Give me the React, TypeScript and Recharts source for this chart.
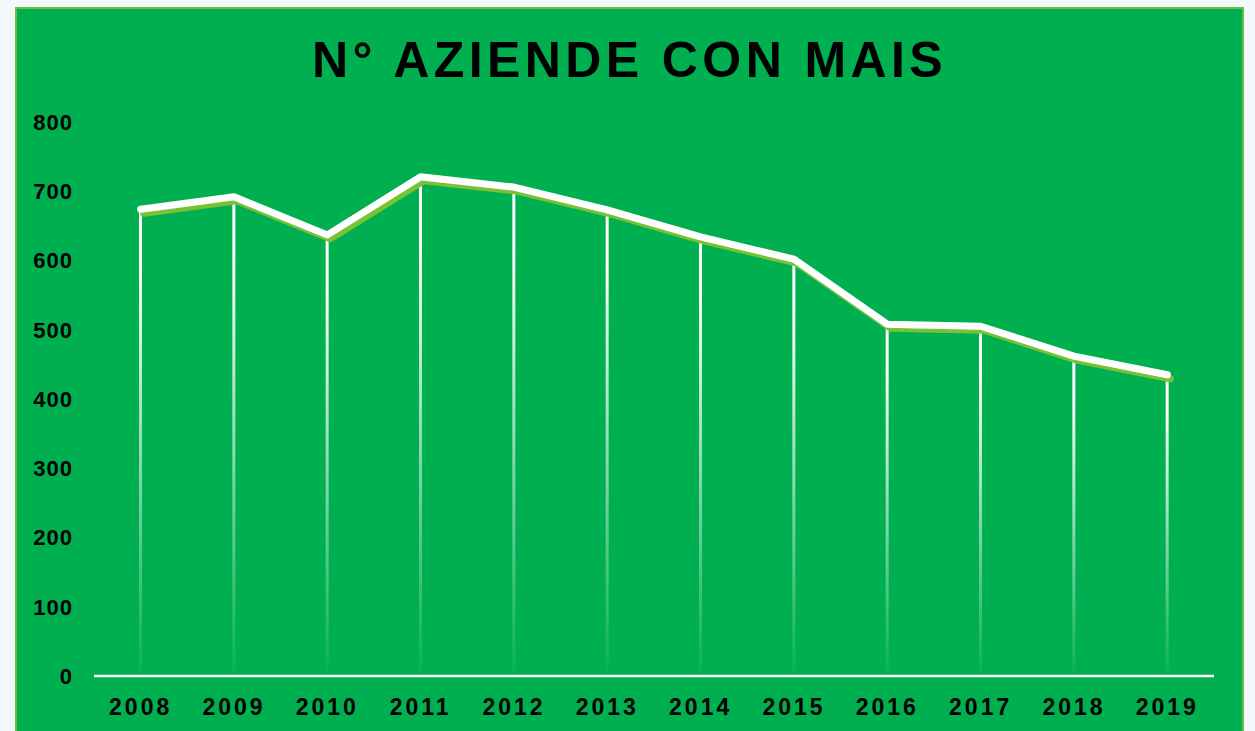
import { Bar, ComposedChart, Line, XAxis, YAxis } from "recharts"

const years = ["2008", "2009", "2010", "2011", "2012", "2013", "2014", "2015", "2016", "2017", "2018", "2019"]
const aziende = [674, 692, 637, 721, 706, 673, 634, 602, 508, 505, 462, 435]
const yTicks = [0, 100, 200, 300, 400, 500, 600, 700, 800]

const data = years.map((year, i) => ({ year, aziende: aziende[i] }))

const font = '"Liberation Sans", Arial, sans-serif'

const App = () => {
  return (
    <div
      style={{
        position: "fixed",
        left: 0,
        top: 0,
        width: 1255,
        height: 731,
        overflow: "hidden",
        background: "#F3F8FC",
        fontFamily: font,
      }}>
      {/* chart box */}
      <div
        style={{
          position: "absolute",
          left: 15,
          top: 7,
          width: 1229,
          height: 740,
          boxSizing: "border-box",
          background: "#00AF50",
          border: "2px solid #6DBE3C",
        }}
      />
      <div
        style={{
          position: "absolute",
          left: 15,
          top: 35,
          width: 1229,
          textAlign: "center",
          fontSize: 50,
          lineHeight: "50px",
          fontWeight: 700,
          letterSpacing: 4.4,
          color: "#000",
        }}>
        N° AZIENDE CON MAIS
      </div>
      <div style={{ position: "absolute", left: 0, top: 0 }}>
        <ComposedChart
          width={1255}
          height={731}
          data={data}
          margin={{ top: 122, right: 41, bottom: 15, left: 0 }}>
          <defs>
            <linearGradient id="drop" x1="0" y1="0" x2="0" y2="1">
              <stop offset="0" stopColor="#fff" stopOpacity={1} />
              <stop offset="0.12" stopColor="#fff" stopOpacity={1} />
              <stop offset="1" stopColor="#fff" stopOpacity={0.03} />
            </linearGradient>
            <filter id="lineShadow" x="-5%" y="-20%" width="110%" height="140%">
              <feDropShadow dx="3" dy="4" stdDeviation="0.4" floodColor="#7AC232" floodOpacity={1} />
            </filter>
          </defs>
          <XAxis
            dataKey="year"
            height={40}
            tickSize={0}
            tickMargin={23}
            axisLine={{ stroke: "#fff", strokeWidth: 2.5 }}
            tick={{ fill: "#000", fontSize: 23, fontWeight: 700, fontFamily: font, letterSpacing: 3 }}
          />
          <YAxis
            width={94}
            domain={[0, 800]}
            ticks={yTicks}
            interval={0}
            tickSize={0}
            tickMargin={21}
            axisLine={false}
            tick={{ fill: "#000", fontSize: 22, fontWeight: 700, fontFamily: font, letterSpacing: 1 }}
          />
          <Bar dataKey="aziende" barSize={3} fill="url(#drop)" isAnimationActive={false} />
          <Line
            type="linear"
            dataKey="aziende"
            stroke="#fff"
            strokeWidth={7}
            strokeLinecap="round"
            strokeLinejoin="round"
            dot={false}
            activeDot={false}
            filter="url(#lineShadow)"
            isAnimationActive={false}
          />
        </ComposedChart>
      </div>
    </div>
  )
}

export default App
